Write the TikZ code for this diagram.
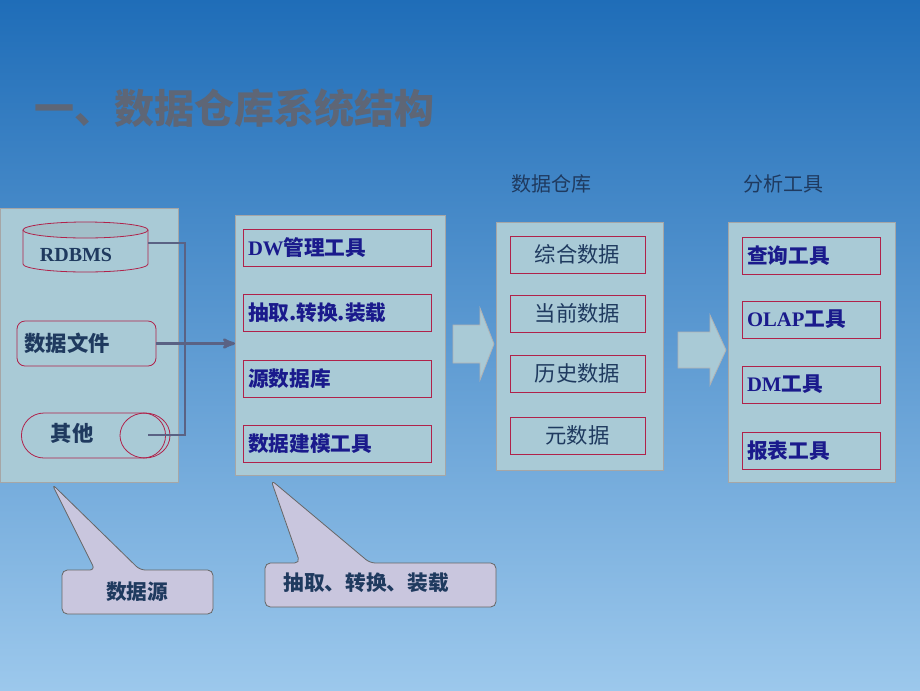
\documentclass[tikz,border=0pt]{standalone}
\usepackage{fontspec}
\setmainfont{Liberation Serif}
\newfontfamily\cjk{Noto Sans CJK SC}
\usetikzlibrary{shapes,arrows}
\definecolor{panel}{HTML}{A9CAD6}
\definecolor{navy}{HTML}{1A1A8C}
\definecolor{ink}{HTML}{1F3A5F}
\definecolor{wire}{HTML}{5A6284}
\definecolor{frame}{HTML}{B0224A}
\definecolor{skytop}{HTML}{1F6DB8}
\definecolor{skybot}{HTML}{9CC8EC}
\definecolor{lilac}{HTML}{C9C6DE}
\definecolor{titlegray}{HTML}{5E6676}
\tikzset{
  panelbox/.style={draw=gray!70, fill=panel},
  itembox/.style={draw=frame, fill=panel, minimum height=37*0.75pt, inner sep=2pt, font=\cjk\bfseries\fontsize{15.5}{15.5}\selectfont},
  callout/.style={draw=gray!80!black, fill=lilac, rounded corners=4pt},
}
\begin{document}
\begin{tikzpicture}[x=0.75pt, y=-0.75pt, >=stealth', semithick]
\shade[top color=skytop, bottom color=skybot] (0,0) rectangle (920,690);
\useasboundingbox (0,0) rectangle (920,690);
\node[anchor=west, text=titlegray, font=\cjk\bfseries\fontsize{30}{30}\selectfont] (title) at (30,108) {一、数据仓库系统结构};

% data sources
\draw[panelbox] (0,208) rectangle (178,482);
\draw[frame, fill=panel] (23,230) -- (23,264) arc[start angle=180, end angle=360, x radius=62.5*0.75pt, y radius=8*0.75pt] -- (148,230);
\draw[frame, fill=panel!85!gray] (85.5,230) ellipse (62.5*0.75pt and 8*0.75pt);
\node[text=ink, font=\bfseries\fontsize{15}{15}\selectfont] (rdbms) at (76,255) {RDBMS};
\node[draw=frame, fill=panel, rounded corners=6pt, minimum width=139*0.75pt, minimum height=45*0.75pt, text=ink, font=\cjk\bfseries\fontsize{16}{16}\selectfont, text width=124*0.75pt, align=left] (file) at (86.5,343.5) {数据文件};
\node[draw=frame, fill=panel, rounded rectangle, minimum width=153*0.75pt, minimum height=45*0.75pt] (other) at (93.5,435.5) {};
\node[text=ink, font=\cjk\bfseries\fontsize{16}{16}\selectfont] (othertext) at (72,433) {其他};
\draw[frame] (145,435.5) ellipse (25*0.75pt and 22.5*0.75pt);
\coordinate (ra) at (148,243);
\coordinate (oa) at (148,435);
\draw[wire, line width=2pt] (ra) -- (185,243) -- (185,435) -- (oa);
\draw[wire, line width=2pt, ->] (file.east) -- (235,343.5);

% tools
\draw[panelbox] (235,215) rectangle (445,475);
\foreach \y/\t/\n in {247.5/{\rmfamily DW}管理工具/a, 312.5/抽取.转换.装载/b, 378.5/源数据库/c, 443.5/数据建模工具/d}
  \node[itembox, text=navy, minimum width=188*0.75pt, text width=178*0.75pt, align=left] (tool\n) at (337,\y) {\t};

% warehouse
\node[font=\cjk\fontsize{15}{15}\selectfont, text=ink] (whlabel) at (551,184) {数据仓库};
\draw[panelbox] (496,222) rectangle (663,470);
\foreach \y/\t/\n in {254.5/综合数据/a, 313.5/当前数据/b, 373.5/历史数据/c, 435.5/元数据/d}
  \node[itembox, text=ink, font=\cjk\fontsize{16}{16}\selectfont, minimum width=135*0.75pt] (wh\n) at (577.5,\y) {\t};

% analysis
\node[font=\cjk\fontsize{15}{15}\selectfont, text=ink] (anlabel) at (783,184) {分析工具};
\draw[panelbox] (728,222) rectangle (895,482);
\foreach \y/\t/\n in {255.5/查询工具/a, 319.5/{\rmfamily OLAP}工具/b, 384.5/{\rmfamily DM}工具/c, 450.5/报表工具/d}
  \node[itembox, text=navy, minimum width=138*0.75pt, text width=128*0.75pt, align=left] (an\n) at (811,\y) {\t};

% block arrows
\draw[draw=gray!60, fill=panel] (453,325) -- (480,325) -- (480,308) -- (494,344) -- (480,380) -- (480,363) -- (453,363) -- cycle;
\draw[draw=gray!60, fill=panel] (678,332) -- (710,332) -- (710,315) -- (726,350) -- (710,385) -- (710,368) -- (678,368) -- cycle;

% callouts
\draw[callout] (62,570) -- (95,570) -- (52,484) -- (140,570) -- (213,570) -- (213,614) -- (62,614) -- cycle;
\node[font=\cjk\bfseries\fontsize{15.5}{15.5}\selectfont, text=ink] (src) at (137,592) {数据源};
\draw[callout] (265,563) -- (300,563) -- (271,480) -- (370,563) -- (496,563) -- (496,607) -- (265,607) -- cycle;
\node[font=\cjk\bfseries\fontsize{15.5}{15.5}\selectfont, text=ink] (etl) at (366,583) {抽取、转换、装载};
\end{tikzpicture}
\end{document}
